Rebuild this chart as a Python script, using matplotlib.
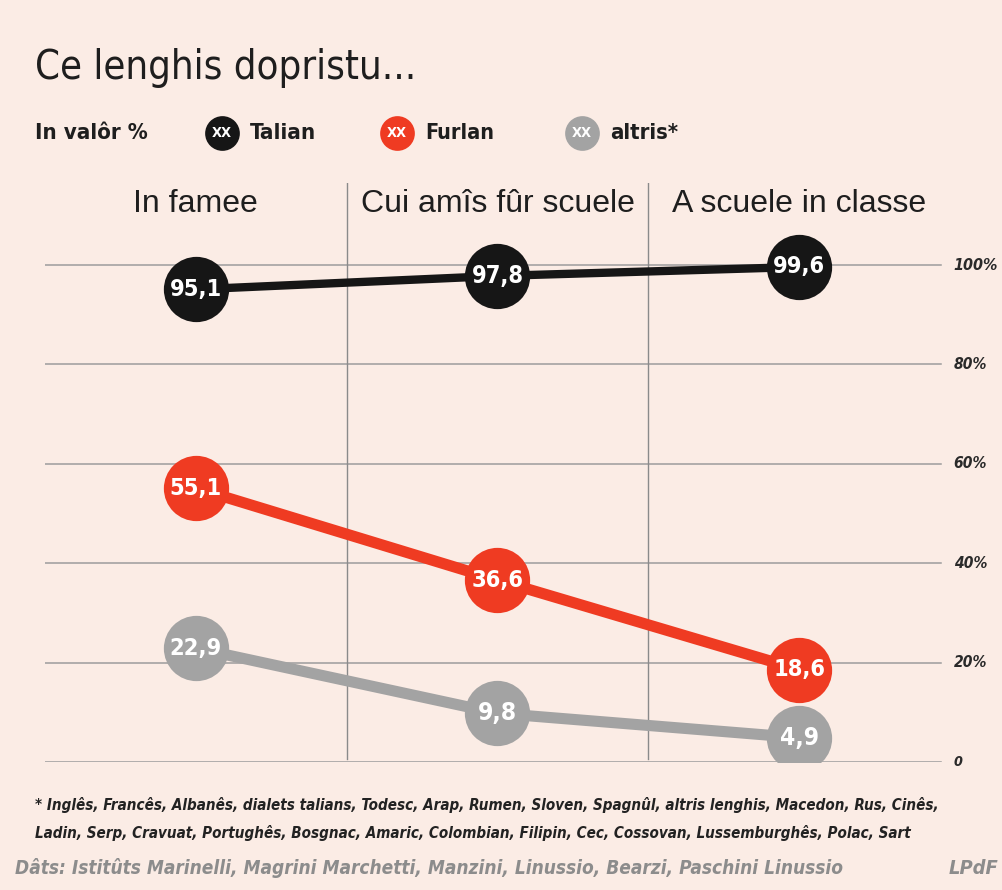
import matplotlib.pyplot as plt
from matplotlib.lines import Line2D

# Data
categories = ["In famee", "Cui amîs fûr scuele", "A scuele in classe"]
talian = [95.1, 97.8, 99.6]
furlan = [55.1, 36.6, 18.6]
altris = [22.9, 9.8, 4.9]
y_ticks = [0, 20, 40, 60, 80, 100]
y_tick_labels = ["0", "20%", "40%", "60%", "80%", "100%"]
series_names = ["Talian", "Furlan", "altris*"]

BG = "#fbece5"
BLACK = "#161616"
RED = "#ef3b22"
GREY = "#a3a3a3"

plt.rcParams["font.family"] = ["DejaVu Sans"]

W, H = 1002, 890
fig = plt.figure(figsize=(W / 100, H / 100), dpi=100, facecolor=BG)
renderer = fig.canvas.get_renderer()


def fx(px):
    return px / W


def fy(py):
    return 1 - py / H


def fit(t, width_px):
    # shrink/grow the font so the text spans width_px, like the condensed original
    w = t.get_window_extent(renderer).width
    t.set_fontsize(t.get_fontsize() * width_px / w)
    return t


# main axes: pixel box x 45..950, y 183..762
ax = fig.add_axes([fx(45), fy(762), fx(950) - fx(45), fy(183) - fy(762)])
ax.set_facecolor(BG)
ax.set_xlim(0, 3)
ax.set_ylim(0, 116.5)
for s in ax.spines.values():
    s.set_visible(False)
ax.set_xticks([])
ax.set_yticks([])

# gridlines + right labels
for v, lab in zip(y_ticks, y_tick_labels):
    ax.plot([0, 2.97], [v, v], color="#9c9c9c", lw=1.1, zorder=1)
    t = ax.text(3.012, v, lab, ha="left", va="center", fontsize=14,
                style="italic", fontweight="bold", color="#2a2a2a",
                fontstretch="condensed", clip_on=False)
    fit(t, 11.2 * len(lab) if lab != "0" else 9)

# column separators
for x in [1, 2]:
    ax.plot([x, x], [0.7, 116.5], color="#8a8a8a", lw=1, zorder=1)

# column headers
xs = [0.5, 1.5, 2.5]
for x, c in zip(xs, categories):
    ax.text(x, 112.3, c, ha="center", va="center", fontsize=23, color="#1e1e1e",
            family=["Liberation Sans", "DejaVu Sans"])

# series
for vals, col, lw in [(altris, GREY, 8), (furlan, RED, 8), (talian, BLACK, 6)]:
    ax.plot(xs, vals, color=col, lw=lw, zorder=2, solid_capstyle="butt")
    ax.plot(xs, vals, "o", color=col, markersize=47, zorder=3, markeredgewidth=0)
    for x, v in zip(xs, vals):
        lab = f"{v:.1f}".replace(".", ",")
        t = ax.text(x, v, lab, ha="center", va="center", color="white",
                    fontsize=20, fontweight="bold", fontstretch="condensed", zorder=4)
        fit(t, 13 * len(lab))

# title
t = fig.text(fx(35), fy(68), "Ce lenghis dopristu...", fontsize=31, color="#1e1e1e",
             ha="left", va="center", fontstretch="condensed")
fit(t, 380)

# legend row
t = fig.text(fx(35), fy(133), "In valôr %", fontsize=17, fontweight="bold",
             color="#1e1e1e", ha="left", va="center", fontstretch="condensed")
fit(t, 113)
for px, col, lab, wd in zip([222, 397, 582], [BLACK, RED, GREY], series_names, [66, 69, 68]):
    fig.add_artist(Line2D([fx(px)], [fy(133)], marker="o", markersize=25,
                          color=col, markeredgewidth=0, transform=fig.transFigure))
    t = fig.text(fx(px), fy(133), "XX", fontsize=12, fontweight="bold", color="white",
                 ha="center", va="center", fontstretch="condensed")
    fit(t, 20)
    t = fig.text(fx(px + 28), fy(133), lab, fontsize=17, fontweight="bold",
                 color="#1e1e1e", ha="left", va="center", fontstretch="condensed")
    fit(t, wd)

# footnote
note1 = ("* Inglês, Francês, Albanês, dialets talians, Todesc, Arap, Rumen, Sloven, Spagnûl, "
         "altris lenghis, Macedon, Rus, Cinês,")
note2 = ("Ladin, Serp, Cravuat, Portughês, Bosgnac, Amaric, Colombian, Filipin, Cec, Cossovan, "
         "Lussemburghês, Polac, Sart")
t1 = fig.text(fx(35), fy(805), note1, fontsize=12.5, style="italic", fontweight="bold",
              color="#222222", ha="left", va="center", fontstretch="condensed")
fit(t1, 905)
fig.text(fx(35), fy(833), note2, fontsize=t1.get_fontsize(), style="italic",
         fontweight="bold", color="#222222", ha="left", va="center",
         fontstretch="condensed")

t = fig.text(fx(15), fy(868),
             "Dâts: Istitûts Marinelli, Magrini Marchetti, Manzini, Linussio, Bearzi, Paschini Linussio",
             fontsize=16, style="italic", fontweight="bold", color="#8c8c8c",
             ha="left", va="center", fontstretch="condensed")
fit(t, 830)
t = fig.text(fx(998), fy(868), "LPdF", fontsize=16, style="italic", fontweight="bold",
             color="#8c8c8c", ha="right", va="center", fontstretch="condensed")
fit(t, 50)

fig.savefig("out.png", dpi=100, facecolor=BG)
